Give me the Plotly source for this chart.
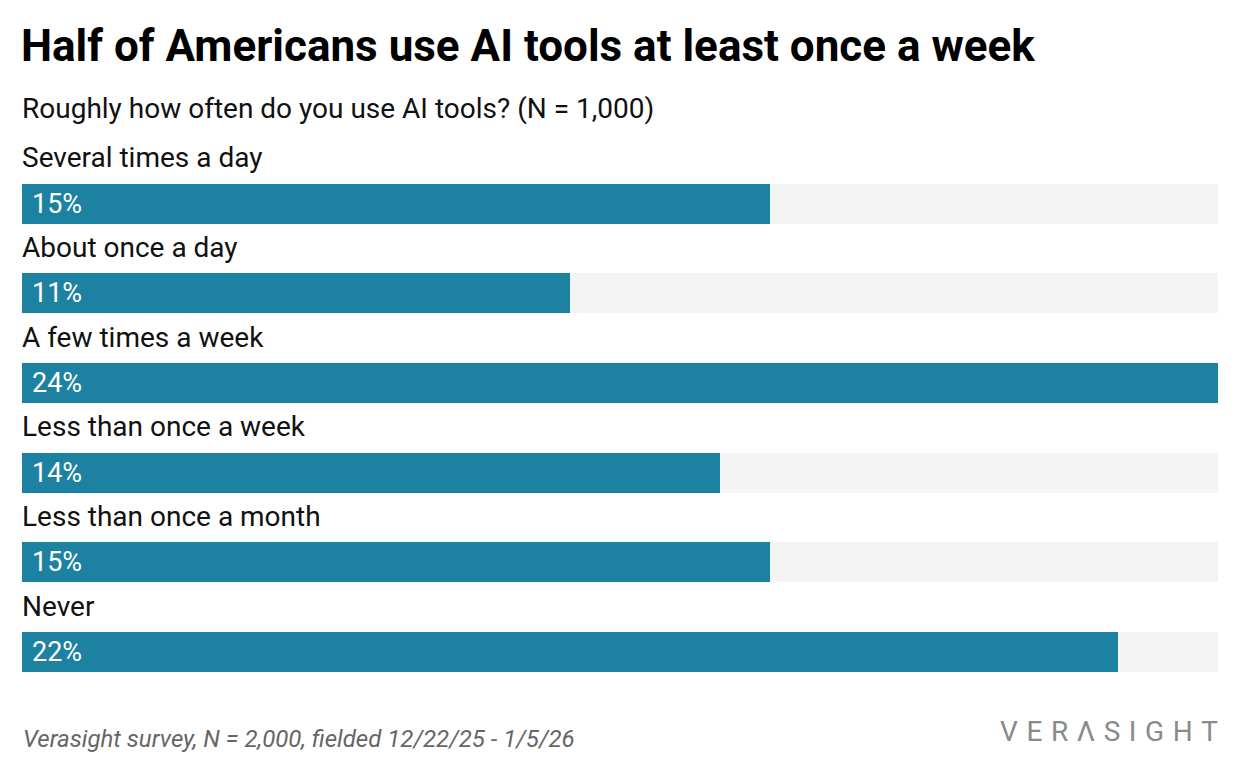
import plotly.graph_objects as go

categories = ["Several times a day", "About once a day", "A few times a week",
              "Less than once a week", "Less than once a month", "Never"]
values = [15, 11, 24, 14, 15, 22]
axis_max = 24

title = "Half of Americans use AI tools at least once a week"
subtitle = "Roughly how often do you use AI tools? (N = 1,000)"
footer = "Verasight survey, N = 2,000, fielded 12/22/25 - 1/5/26"
logo = "VERΛSIGHT"

BAR = "#1d82a1"
BG = "#f4f4f4"
FONT = "Roboto"

W, H = 1240, 772
OFF = 8  # page body margin offset
L, R = 22 - OFF, 22 + OFF
T, B = 123 - OFF, 66 + OFF
ph = H - T - B

def py(p):
    return (H - B - (p - OFF)) / ph

fig = go.Figure()
fig.add_trace(go.Bar(y=categories, x=[axis_max] * len(categories), orientation="h",
                     marker=dict(color=BG, line=dict(width=0)), width=0.446,
                     hoverinfo="skip", showlegend=False))
fig.add_trace(go.Bar(y=categories, x=values, orientation="h",
                     marker=dict(color=BAR, line=dict(width=0)), width=0.446,
                     showlegend=False))

ann = []
for c, v in zip(categories, values):
    ann.append(dict(x=0, y=c, xref="x", yref="y", text=c, showarrow=False,
                    xanchor="left", yanchor="middle", yshift=46, xshift=-2,
                    font=dict(family=FONT, size=28, color="#111111")))
    ann.append(dict(x=0, y=c, xref="x", yref="y", text=f"{v}%", showarrow=False,
                    xanchor="left", yanchor="middle", xshift=8, yshift=0,
                    font=dict(family=FONT, size=27, color="white")))

ann.append(dict(x=0, y=py(46), xref="paper", yref="paper", text=f"<b>{title}</b>",
                showarrow=False, xanchor="left", yanchor="middle", xshift=-3,
                font=dict(family=FONT, size=44, color="#000000")))
ann.append(dict(x=0, y=py(108), xref="paper", yref="paper", text=subtitle,
                showarrow=False, xanchor="left", yanchor="middle", xshift=-2,
                font=dict(family=FONT, size=28, color="#111111")))
ann.append(dict(x=0, y=py(739), xref="paper", yref="paper", text=f"<i>{footer}</i>",
                showarrow=False, xanchor="left", yanchor="middle", xshift=-1,
                font=dict(family=FONT, size=24, color="#666666")))
ann.append(dict(x=1, y=py(731), xref="paper", yref="paper",
                text="\u2009\u200a".join(list(logo)),
                showarrow=False, xanchor="right", yanchor="middle", xshift=2,
                font=dict(family=FONT, size=28, color="#8a8a8a")))

fig.update_layout(
    width=W, height=H, barmode="overlay", bargap=0,
    margin=dict(l=L, r=R, t=T, b=B, pad=0),
    paper_bgcolor="white", plot_bgcolor="white",
    xaxis=dict(range=[0, axis_max], visible=False, fixedrange=True),
    yaxis=dict(range=[5.6, -0.9], visible=False, fixedrange=True),
    annotations=ann,
    font=dict(family=FONT),
)

fig.write_html("out.html", config={"displayModeBar": False})
